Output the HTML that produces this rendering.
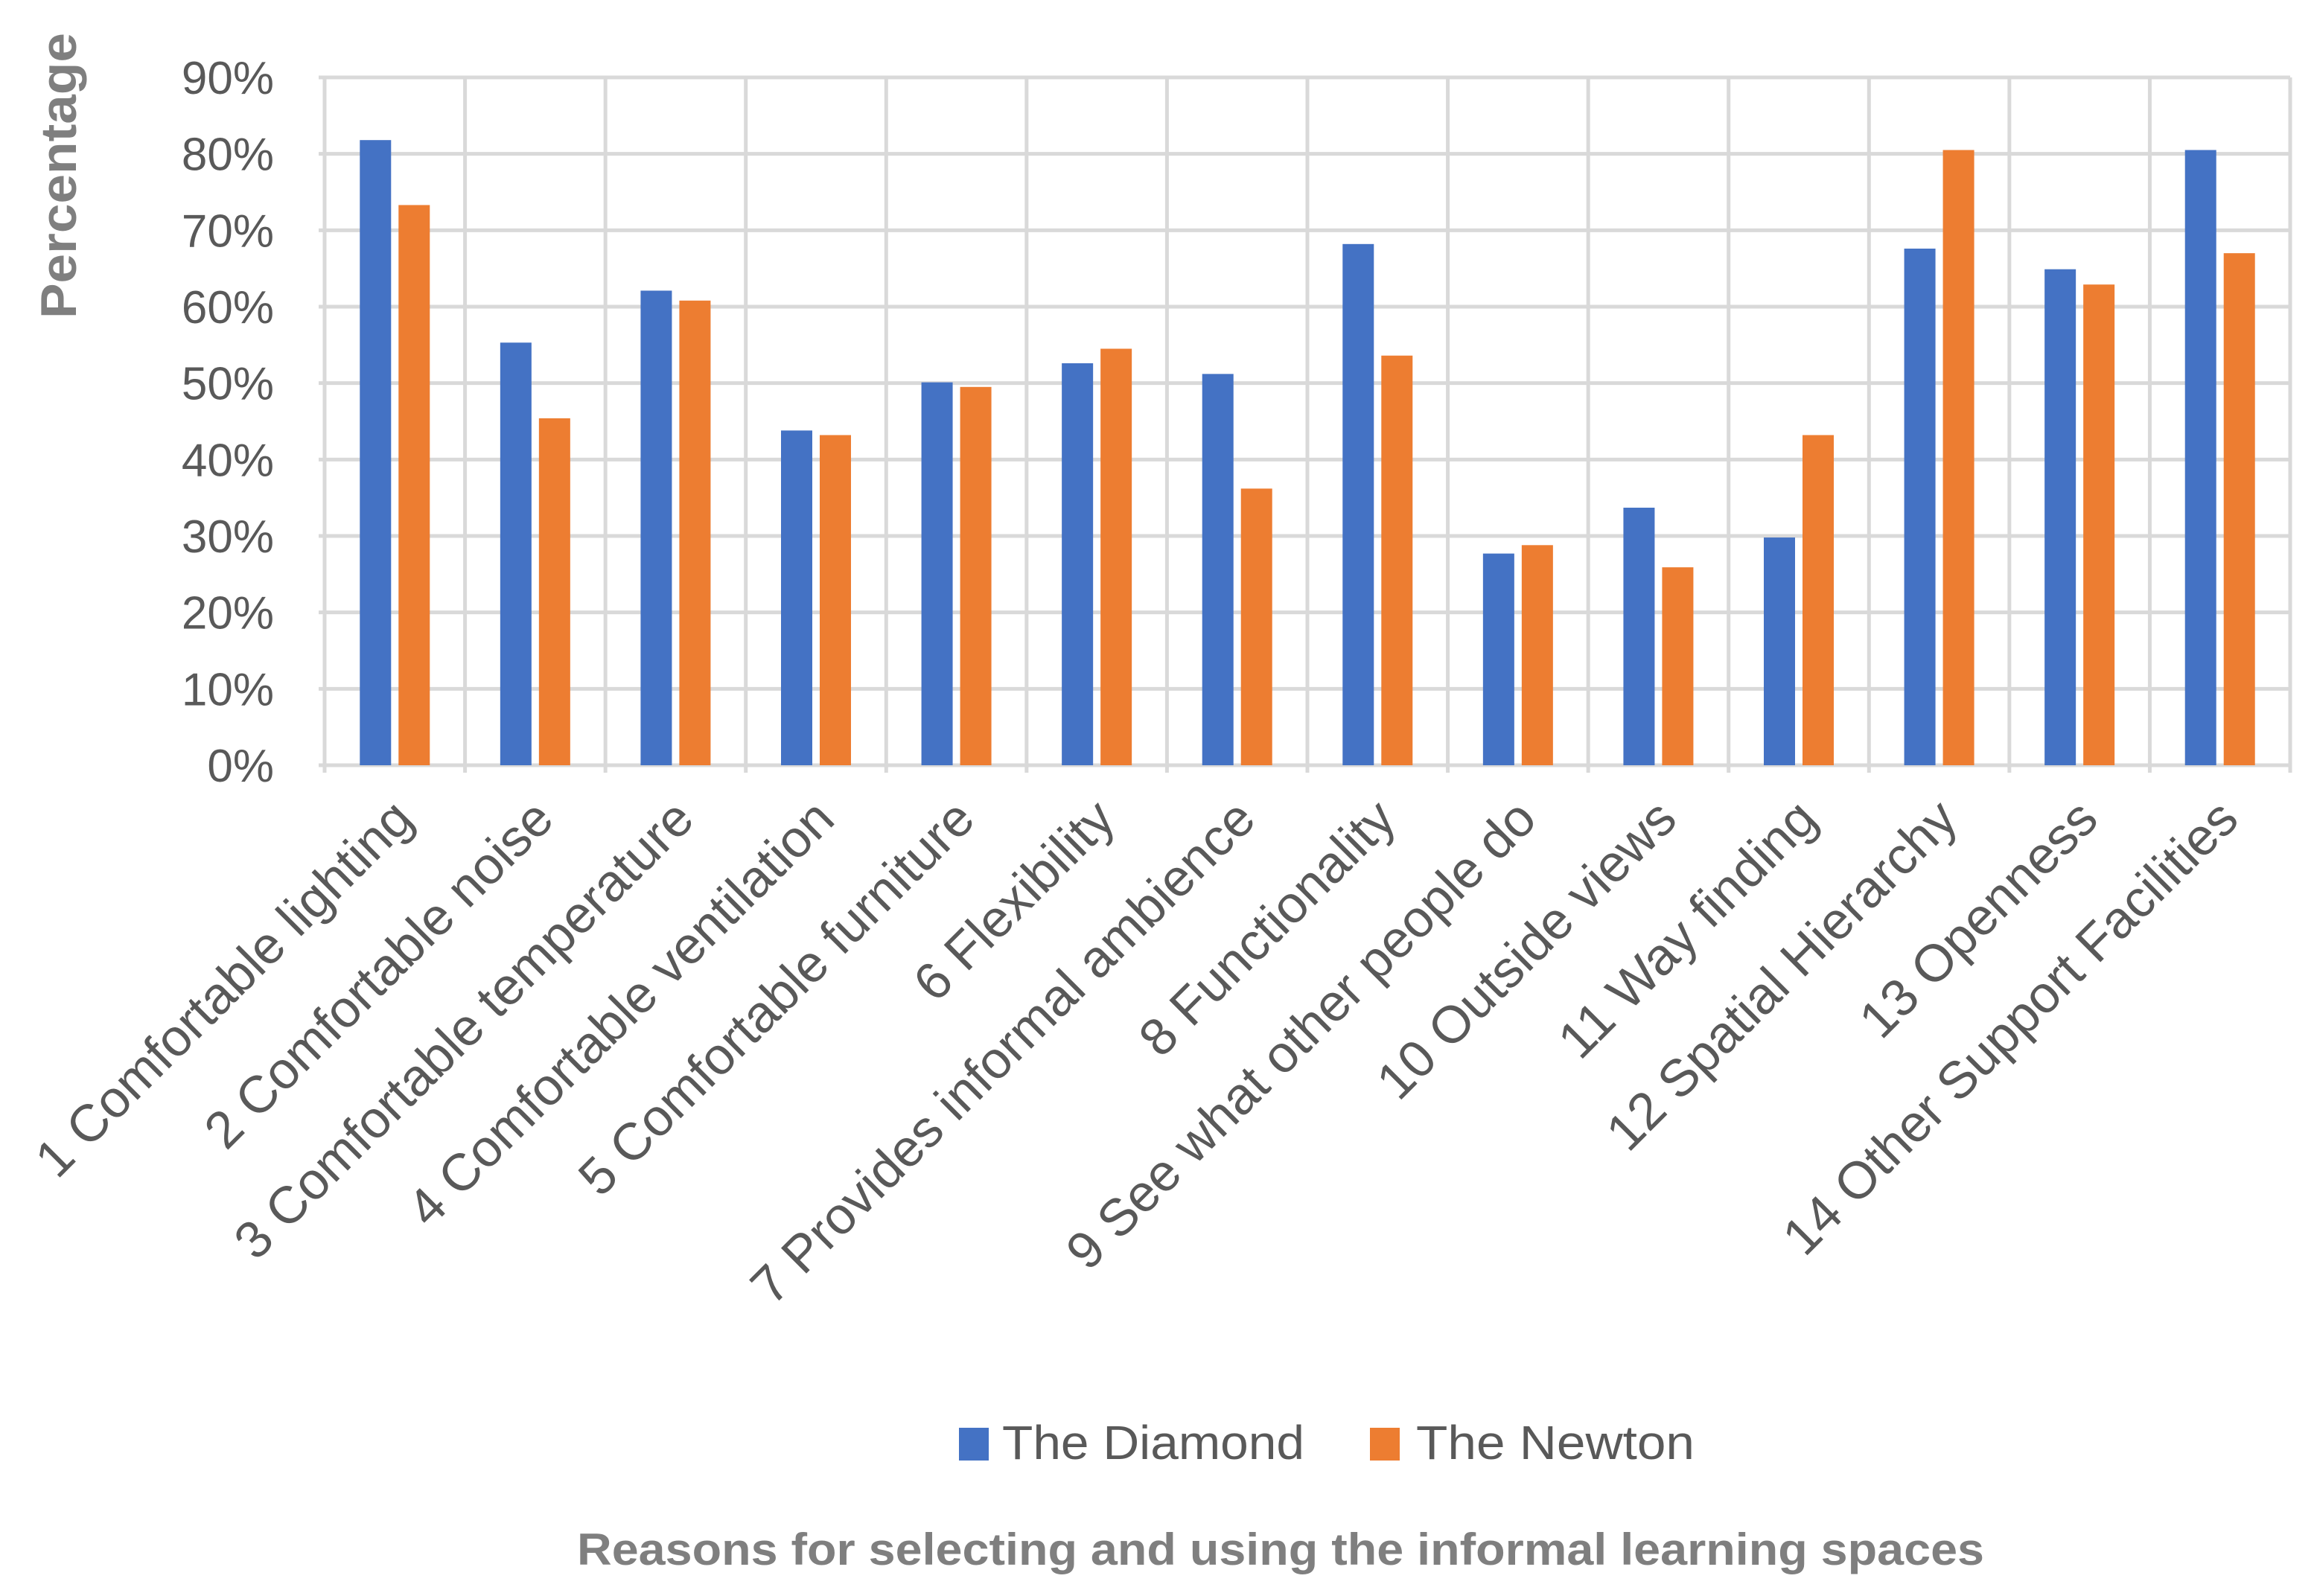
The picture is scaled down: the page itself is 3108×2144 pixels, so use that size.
<!DOCTYPE html>
<html><head><meta charset="utf-8"><style>
html,body{margin:0;padding:0;background:#fff;}
svg{display:block;font-family:"Liberation Sans",sans-serif;}
</style></head><body>
<svg id="chart" width="3108" height="2144" viewBox="0 0 3108 2144" xmlns="http://www.w3.org/2000/svg">
<g id="grid"></g>
<g id="bars"></g>
<g id="yticks"></g>
<g id="xlabels"></g>
<text transform="translate(102,236) rotate(-90)" text-anchor="middle" font-size="68" font-weight="bold" fill="#7f7f7f" textLength="384" lengthAdjust="spacingAndGlyphs">Percentage</text>
<g>
<rect x="1288" y="1918" width="40" height="44" fill="#4472c4"/>
<text x="1346" y="1960" font-size="64" fill="#595959" textLength="406" lengthAdjust="spacingAndGlyphs">The Diamond</text>
<rect x="1840" y="1918" width="40" height="44" fill="#ed7d31"/>
<text x="1902" y="1960" font-size="64" fill="#595959" textLength="374" lengthAdjust="spacingAndGlyphs">The Newton</text>
</g>
<text x="1720" y="2102" text-anchor="middle" font-size="60" font-weight="bold" fill="#7f7f7f" textLength="1890" lengthAdjust="spacingAndGlyphs">Reasons for selecting and using the informal learning spaces</text>
</svg>
<script>
const categories = ["1 Comfortable lighting","2 Comfortable noise","3 Comfortable temperature","4 Comfortable ventilation","5 Comfortable furniture","6 Flexibility","7 Provides informal ambience","8 Functionality","9 See what other people do","10 Outside views","11 Way finding","12 Spatial Hierarchy","13 Openness","14 Other Support Facilities"];
const diamond = [81.8,55.3,62.1,43.8,50.1,52.6,51.2,68.2,27.7,33.7,29.8,67.6,64.9,80.5];
const newton = [73.3,45.4,60.8,43.2,49.5,54.5,36.2,53.6,28.8,25.9,43.2,80.5,62.9,67.0];
const yTicks = [0,10,20,30,40,50,60,70,80,90];
const NS="http://www.w3.org/2000/svg";
const X0=436, X1=3076, Y0=1028, Y1=104, YMAX=90;
const bw=(X1-X0)/categories.length;
function y(v){return Y0-(v/YMAX)*(Y0-Y1);}
function xc(i){return X0+bw*(i+0.5);}
function mk(t,a,p){const e=document.createElementNS(NS,t);for(const k in a)e.setAttribute(k,a[k]);p.appendChild(e);return e;}
const grid=document.getElementById('grid'),bars=document.getElementById('bars'),yt=document.getElementById('yticks'),xl=document.getElementById('xlabels');
yTicks.forEach(v=>{
  const l=mk('line',{x1:X0-8,x2:X1,y1:y(v),y2:y(v),stroke:'#d9d9d9','stroke-width':5},grid);
  
  
  const t=mk('text',{x:368,y:y(v)+22,'text-anchor':'end','font-size':62,fill:'#595959'},yt);
  t.textContent=v+'%';
  
  
});
for(let i=0;i<=categories.length;i++){
  const l=mk('line',{x1:X0+bw*i,x2:X0+bw*i,y1:Y1,y2:Y0+10,stroke:'#d9d9d9','stroke-width':5},grid);
  
  
}
const BW=42,GAP=10;
categories.forEach((c,i)=>{
  const cx=xc(i);
  const b1=mk('rect',{x:cx-GAP/2-BW,y:y(diamond[i]),width:BW,height:Y0-y(diamond[i]),fill:'#4472c4'},bars);
  
  
  const b2=mk('rect',{x:cx+GAP/2,y:y(newton[i]),width:BW,height:Y0-y(newton[i]),fill:'#ed7d31'},bars);
  
  
  const ax=cx+28, ay=1104;
  const t=mk('text',{x:ax,y:ay,'text-anchor':'end','font-size':70,fill:'#595959',transform:`rotate(-45 ${ax} ${ay})`},xl);
  t.textContent=c;
  
  
});
</script>
</body></html>
